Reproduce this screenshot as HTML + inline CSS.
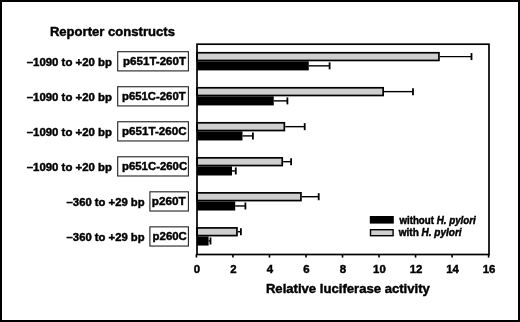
<!DOCTYPE html>
<html><head><meta charset="utf-8"><style>
html,body{margin:0;padding:0;background:#fff;}
body{width:520px;height:322px;overflow:hidden;}
svg{display:block;will-change:transform;}
text{font-family:"Liberation Sans",sans-serif;font-weight:bold;fill:#000;stroke:#000;stroke-width:0.45px;}
</style></head><body>
<svg width="520" height="322" viewBox="0 0 520 322">
<rect x="1" y="1" width="518" height="320" fill="none" stroke="#000" stroke-width="2"/>
<text x="49.90" y="35.50" style="font-size:13.2px" textLength="125.05" lengthAdjust="spacingAndGlyphs">Reporter constructs</text>
<text x="265.90" y="292.80" style="font-size:13.2px" textLength="163.94" lengthAdjust="spacingAndGlyphs">Relative luciferase activity</text>
<text x="399.40" y="223.50" style="font-size:10.0px" textLength="76.34" lengthAdjust="spacingAndGlyphs">without <tspan font-style="italic">H. pylori</tspan></text>
<text x="398.80" y="236.10" style="font-size:10.0px" textLength="62.80" lengthAdjust="spacingAndGlyphs">with <tspan font-style="italic">H. pylori</tspan></text>
<text x="26.70" y="65.50" style="font-size:11.4px" textLength="85.37" lengthAdjust="spacingAndGlyphs">–1090 to +20 bp</text>
<text x="123.00" y="65.30" style="font-size:11.7px" textLength="63.07" lengthAdjust="spacingAndGlyphs">p651T-260T</text>
<text x="26.70" y="100.53" style="font-size:11.4px" textLength="85.37" lengthAdjust="spacingAndGlyphs">–1090 to +20 bp</text>
<text x="122.00" y="100.33" style="font-size:11.7px" textLength="63.62" lengthAdjust="spacingAndGlyphs">p651C-260T</text>
<text x="26.70" y="135.56" style="font-size:11.4px" textLength="85.37" lengthAdjust="spacingAndGlyphs">–1090 to +20 bp</text>
<text x="122.00" y="135.36" style="font-size:11.7px" textLength="64.57" lengthAdjust="spacingAndGlyphs">p651T-260C</text>
<text x="26.70" y="170.59" style="font-size:11.4px" textLength="85.37" lengthAdjust="spacingAndGlyphs">–1090 to +20 bp</text>
<text x="122.00" y="170.39" style="font-size:11.7px" textLength="65.12" lengthAdjust="spacingAndGlyphs">p651C-260C</text>
<text x="66.60" y="205.62" style="font-size:11.4px" textLength="78.03" lengthAdjust="spacingAndGlyphs">–360 to +29 bp</text>
<text x="151.80" y="205.42" style="font-size:11.7px" textLength="33.98" lengthAdjust="spacingAndGlyphs">p260T</text>
<text x="66.60" y="240.65" style="font-size:11.4px" textLength="78.03" lengthAdjust="spacingAndGlyphs">–360 to +29 bp</text>
<text x="152.60" y="240.45" style="font-size:11.7px" textLength="34.29" lengthAdjust="spacingAndGlyphs">p260C</text>
<rect x="197.00" y="52.75" width="241.95" height="7.70" fill="#cfcfcf" stroke="#000" stroke-width="1.7"/>
<line x1="439.80" y1="56.60" x2="471.50" y2="56.60" stroke="#000" stroke-width="1.4"/>
<line x1="471.50" y1="53.10" x2="471.50" y2="60.10" stroke="#000" stroke-width="1.8"/>
<rect x="197.00" y="61.30" width="111.75" height="9.10" fill="#000"/>
<line x1="308.75" y1="65.85" x2="329.60" y2="65.85" stroke="#000" stroke-width="1.4"/>
<line x1="329.60" y1="62.35" x2="329.60" y2="69.35" stroke="#000" stroke-width="1.8"/>
<rect x="117.70" y="51.70" width="70.70" height="19.2" fill="none" stroke="#222" stroke-width="1.1"/>
<rect x="197.00" y="87.78" width="186.15" height="7.70" fill="#cfcfcf" stroke="#000" stroke-width="1.7"/>
<line x1="384.00" y1="91.63" x2="413.00" y2="91.63" stroke="#000" stroke-width="1.4"/>
<line x1="413.00" y1="88.13" x2="413.00" y2="95.13" stroke="#000" stroke-width="1.8"/>
<rect x="197.00" y="96.33" width="76.75" height="9.10" fill="#000"/>
<line x1="273.75" y1="100.88" x2="287.40" y2="100.88" stroke="#000" stroke-width="1.4"/>
<line x1="287.40" y1="97.38" x2="287.40" y2="104.38" stroke="#000" stroke-width="1.8"/>
<rect x="117.70" y="86.73" width="70.70" height="19.2" fill="none" stroke="#222" stroke-width="1.1"/>
<rect x="197.00" y="122.81" width="87.35" height="7.70" fill="#cfcfcf" stroke="#000" stroke-width="1.7"/>
<line x1="285.20" y1="126.66" x2="304.70" y2="126.66" stroke="#000" stroke-width="1.4"/>
<line x1="304.70" y1="123.16" x2="304.70" y2="130.16" stroke="#000" stroke-width="1.8"/>
<rect x="197.00" y="131.36" width="45.50" height="9.10" fill="#000"/>
<line x1="242.50" y1="135.91" x2="252.90" y2="135.91" stroke="#000" stroke-width="1.4"/>
<line x1="252.90" y1="132.41" x2="252.90" y2="139.41" stroke="#000" stroke-width="1.8"/>
<rect x="117.70" y="121.76" width="70.70" height="19.2" fill="none" stroke="#222" stroke-width="1.1"/>
<rect x="197.00" y="157.84" width="85.25" height="7.70" fill="#cfcfcf" stroke="#000" stroke-width="1.7"/>
<line x1="283.10" y1="161.69" x2="291.10" y2="161.69" stroke="#000" stroke-width="1.4"/>
<line x1="291.10" y1="158.19" x2="291.10" y2="165.19" stroke="#000" stroke-width="1.8"/>
<rect x="197.00" y="166.39" width="35.00" height="9.10" fill="#000"/>
<line x1="232.00" y1="170.94" x2="235.80" y2="170.94" stroke="#000" stroke-width="1.4"/>
<line x1="235.80" y1="167.44" x2="235.80" y2="174.44" stroke="#000" stroke-width="1.8"/>
<rect x="117.70" y="156.79" width="70.70" height="19.2" fill="none" stroke="#222" stroke-width="1.1"/>
<rect x="197.00" y="192.87" width="103.95" height="7.70" fill="#cfcfcf" stroke="#000" stroke-width="1.7"/>
<line x1="301.80" y1="196.72" x2="318.70" y2="196.72" stroke="#000" stroke-width="1.4"/>
<line x1="318.70" y1="193.22" x2="318.70" y2="200.22" stroke="#000" stroke-width="1.8"/>
<rect x="197.00" y="201.42" width="38.20" height="9.10" fill="#000"/>
<line x1="235.20" y1="205.97" x2="245.40" y2="205.97" stroke="#000" stroke-width="1.4"/>
<line x1="245.40" y1="202.47" x2="245.40" y2="209.47" stroke="#000" stroke-width="1.8"/>
<rect x="149.90" y="191.82" width="38.50" height="19.2" fill="none" stroke="#222" stroke-width="1.1"/>
<rect x="197.00" y="227.90" width="39.95" height="7.70" fill="#cfcfcf" stroke="#000" stroke-width="1.7"/>
<line x1="237.80" y1="231.75" x2="240.90" y2="231.75" stroke="#000" stroke-width="1.4"/>
<line x1="240.90" y1="228.25" x2="240.90" y2="235.25" stroke="#000" stroke-width="1.8"/>
<rect x="197.00" y="236.45" width="11.60" height="9.10" fill="#000"/>
<line x1="208.60" y1="241.00" x2="210.50" y2="241.00" stroke="#000" stroke-width="1.4"/>
<line x1="210.50" y1="237.50" x2="210.50" y2="244.50" stroke="#000" stroke-width="1.8"/>
<rect x="149.90" y="226.85" width="38.50" height="19.2" fill="none" stroke="#222" stroke-width="1.1"/>
<rect x="197" y="44.2" width="292" height="210.3" fill="none" stroke="#000" stroke-width="1.7"/>
<line x1="196.42" y1="254" x2="196.42" y2="257.6" stroke="#000" stroke-width="1.6"/>
<text x="196.82" y="273.4" style="font-size:11.4px" text-anchor="middle">0</text>
<line x1="232.94" y1="254" x2="232.94" y2="257.6" stroke="#000" stroke-width="1.6"/>
<text x="233.34" y="273.4" style="font-size:11.4px" text-anchor="middle">2</text>
<line x1="269.47" y1="254" x2="269.47" y2="257.6" stroke="#000" stroke-width="1.6"/>
<text x="269.87" y="273.4" style="font-size:11.4px" text-anchor="middle">4</text>
<line x1="306.00" y1="254" x2="306.00" y2="257.6" stroke="#000" stroke-width="1.6"/>
<text x="306.39" y="273.4" style="font-size:11.4px" text-anchor="middle">6</text>
<line x1="342.52" y1="254" x2="342.52" y2="257.6" stroke="#000" stroke-width="1.6"/>
<text x="342.92" y="273.4" style="font-size:11.4px" text-anchor="middle">8</text>
<line x1="379.04" y1="254" x2="379.04" y2="257.6" stroke="#000" stroke-width="1.6"/>
<text x="379.44" y="273.4" style="font-size:11.4px" text-anchor="middle">10</text>
<line x1="415.57" y1="254" x2="415.57" y2="257.6" stroke="#000" stroke-width="1.6"/>
<text x="415.97" y="273.4" style="font-size:11.4px" text-anchor="middle">12</text>
<line x1="452.09" y1="254" x2="452.09" y2="257.6" stroke="#000" stroke-width="1.6"/>
<text x="452.49" y="273.4" style="font-size:11.4px" text-anchor="middle">14</text>
<line x1="488.62" y1="254" x2="488.62" y2="257.6" stroke="#000" stroke-width="1.6"/>
<text x="489.02" y="273.4" style="font-size:11.4px" text-anchor="middle">16</text>
<rect x="369.8" y="216" width="24" height="7.6" fill="#000"/>
<rect x="370.5" y="229.7" width="22.6" height="6.0" fill="#cfcfcf" stroke="#000" stroke-width="1.4"/>
</svg>
</body></html>
